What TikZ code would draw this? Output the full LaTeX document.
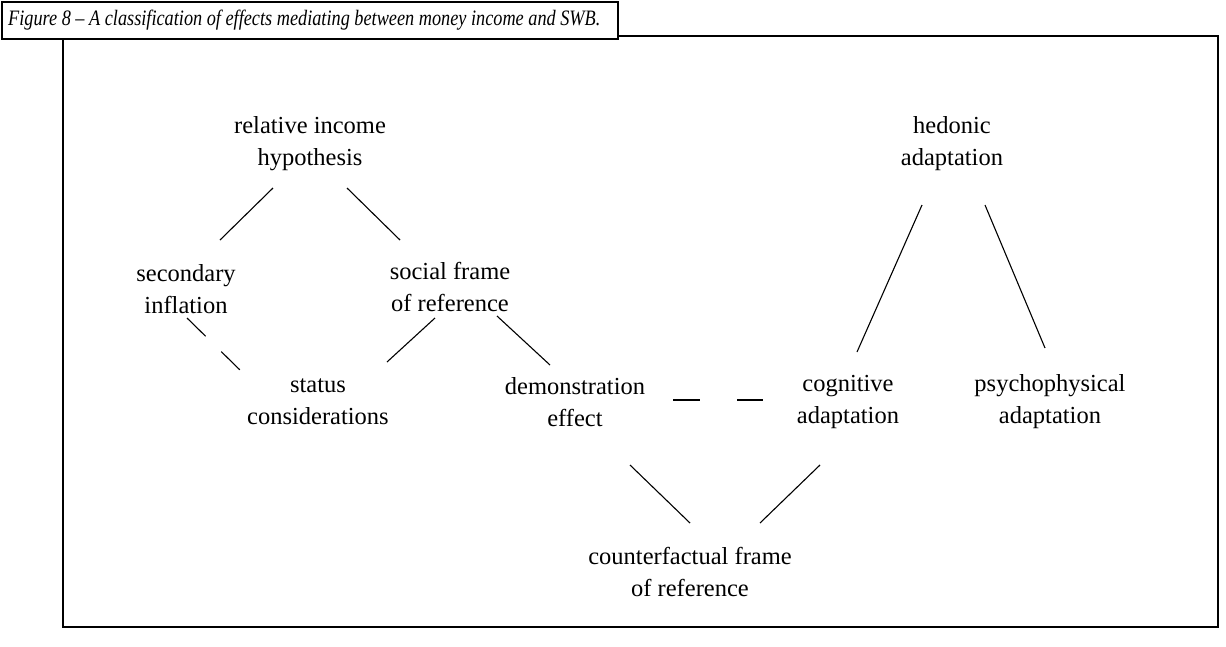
\documentclass[tikz,border=0pt]{standalone}
\usepackage{fontspec}
\setmainfont{Liberation Serif}
\usetikzlibrary{calc}
\begin{document}
\begin{tikzpicture}[x=1pt,y=-1pt,
  lbl/.style={align=center,font=\fontsize{24.5}{32}\selectfont,inner sep=0pt},
  conn/.style={line width=1.1pt},
  gapline/.style={line width=1.1pt,dash pattern=on 26pt off 22pt}]
\useasboundingbox (0,0) rectangle (1226,646);
% outer frame
\draw[line width=1.1pt] (63,36) rectangle (1218,627);
% title box
\draw[line width=1.8pt,fill=white] (2,2) rectangle (618,39);
\node[anchor=west,inner sep=0pt,font=\fontsize{22}{24}\selectfont\itshape] (title) at (8,20)
  {\scalebox{0.83}[1]{Figure 8 -- A classification of effects mediating between money income and SWB.}};
% nodes
\node[lbl] (rih) at (310,144) {relative income\\hypothesis};
\node[lbl] (sec) at (186,289) {secondary\\inflation};
\node[lbl] (sfr) at (450,287) {social frame\\of reference};
\node[lbl] (sta) at (318,402) {status\\considerations};
\node[lbl] (dem) at (575,402) {demonstration\\effect};
\node[lbl] (cog) at (848,402) {cognitive\\adaptation};
\node[lbl] (psy) at (1050,402) {psychophysical\\adaptation};
\node[lbl] (hed) at (952,144) {hedonic\\adaptation};
\node[lbl] (cfr) at (690,572) {counterfactual frame\\of reference};
% connectors
\draw[conn] ($(rih)+(-37,44)$) -- ($(sec)+(34,-49)$);
\draw[conn] ($(rih)+(37,44)$) -- ($(sfr)+(-50,-47)$);
\draw[gapline] ($(sec)+(1,29)$) -- ($(sta)+(-78,-32)$);
\draw[conn] ($(sfr)+(-15,31)$) -- ($(sta)+(69,-40)$);
\draw[conn] ($(sfr)+(47,29)$) -- ($(dem)+(-25,-37)$);
\draw[gapline,dash pattern=on 27pt off 37pt] ($(dem)+(98,-2)$) -- ($(cog)+(-85,-2)$);
\draw[conn] ($(hed)+(-30,61)$) -- ($(cog)+(9,-50)$);
\draw[conn] ($(hed)+(33,61)$) -- ($(psy)+(-5,-54)$);
\draw[conn] ($(dem)+(55,63)$) -- ($(cfr)+(0,-49)$);
\draw[conn] ($(cog)+(-28,63)$) -- ($(cfr)+(70,-49)$);
\end{tikzpicture}
\end{document}
